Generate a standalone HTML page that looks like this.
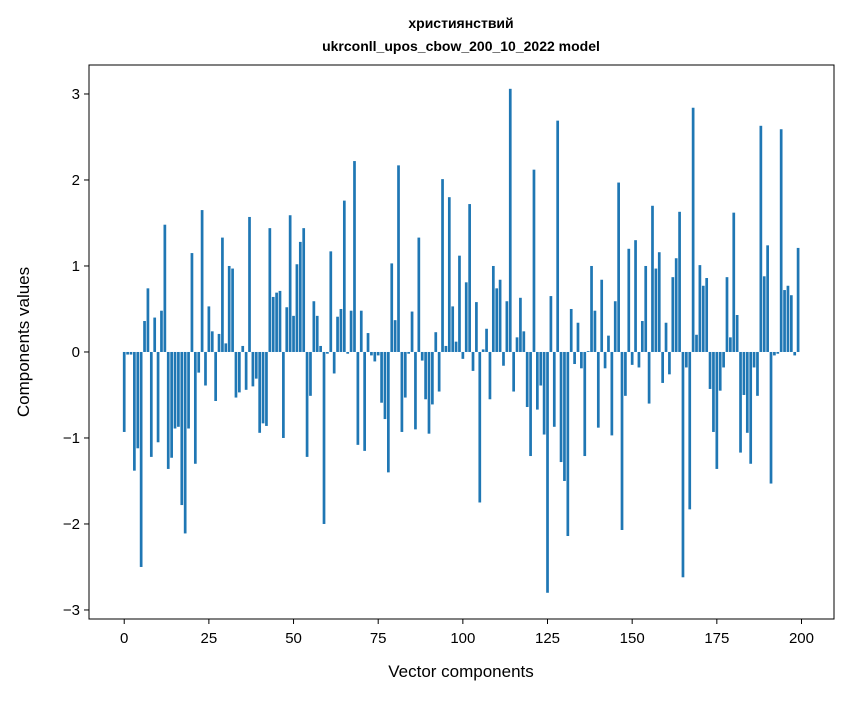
<!DOCTYPE html>
<html><head><meta charset="utf-8"><style>
body{margin:0;background:#fff;}
svg text{font-family:"Liberation Sans","DejaVu Sans",sans-serif;fill:#000;}
</style></head><body>
<svg id="chart" width="847" height="696" xmlns="http://www.w3.org/2000/svg">
<rect width="847" height="696" fill="#fff"/>
<text x="461" y="28" text-anchor="middle" font-size="14" font-weight="bold">християнствий</text>
<text x="461" y="51" text-anchor="middle" font-size="14" font-weight="bold">ukrconll_upos_cbow_200_10_2022 model</text>
<g id="bars"></g>
<g id="axes"></g>
<rect x="89" y="65" width="745" height="554" fill="none" stroke="#000" stroke-width="1"/>
<text x="461" y="677" text-anchor="middle" font-size="17">Vector components</text>
<text transform="translate(29,342) rotate(-90)" text-anchor="middle" font-size="17">Components values</text>
</svg>
<script>
const values = [-0.93,-0.03,-0.03,-1.38,-1.12,-2.50,0.36,0.74,-1.22,0.40,-1.05,0.48,1.48,-1.36,-1.23,-0.89,-0.87,-1.78,-2.11,-0.89,
1.15,-1.30,-0.24,1.65,-0.39,0.53,0.24,-0.57,0.21,1.33,0.10,1.00,0.97,-0.53,-0.47,0.07,-0.44,1.57,-0.40,-0.31,
-0.94,-0.83,-0.86,1.44,0.64,0.69,0.71,-1.00,0.52,1.59,0.42,1.02,1.28,1.44,-1.22,-0.51,0.59,0.42,0.07,-2.00,
-0.02,1.17,-0.25,0.41,0.50,1.76,-0.02,0.48,2.22,-1.08,0.48,-1.15,0.22,-0.04,-0.11,-0.04,-0.59,-0.78,-1.40,1.03,
0.37,2.17,-0.93,-0.53,-0.02,0.47,-0.90,1.33,-0.10,-0.55,-0.95,-0.61,0.23,-0.46,2.01,0.07,1.80,0.53,0.12,1.12,
-0.08,0.81,1.72,-0.22,0.58,-1.75,0.03,0.27,-0.55,1.00,0.74,0.84,-0.16,0.59,3.06,-0.46,0.17,0.63,0.24,-0.64,
-1.21,2.12,-0.67,-0.39,-0.96,-2.80,0.65,-0.87,2.69,-1.28,-1.50,-2.14,0.50,-0.14,0.34,-0.19,-1.21,0.01,1.00,0.48,
-0.88,0.84,-0.19,0.19,-0.97,0.59,1.97,-2.07,-0.51,1.20,-0.15,1.30,-0.18,0.36,1.00,-0.60,1.70,0.97,1.16,-0.36,
0.34,-0.26,0.87,1.09,1.63,-2.62,-0.18,-1.83,2.84,0.20,1.01,0.77,0.86,-0.43,-0.93,-1.36,-0.45,-0.18,0.87,0.17,
1.62,0.43,-1.17,-0.50,-0.94,-1.30,-0.18,-0.51,2.63,0.88,1.24,-1.53,-0.04,-0.02,2.59,0.72,0.77,0.66,-0.04,1.21];
const xTicks = [0,25,50,75,100,125,150,175,200];
const yTicks = [-3,-2,-1,0,1,2,3];
const yTickLabels = ["\u22123","\u22122","\u22121","0","1","2","3"];

const NS="http://www.w3.org/2000/svg";
const X0=89,X1=834,Y0=65,Y1=619, XMIN=-10.4,XMAX=209.6, YMIN=-3.105,YMAX=3.337;
function xs(v){return X0+(v-XMIN)/(XMAX-XMIN)*(X1-X0);}
function ys(v){return Y1-(v-YMIN)/(YMAX-YMIN)*(Y1-Y0);}
const bars=document.getElementById('bars');
values.forEach((v,i)=>{
  const r=document.createElementNS(NS,'rect');
  const xa=xs(i-0.4), xb=xs(i+0.4);
  const y0=ys(0), yv=ys(v);
  r.setAttribute('x',xa);r.setAttribute('width',xb-xa);
  r.setAttribute('y',Math.min(y0,yv));r.setAttribute('height',Math.abs(yv-y0));
  r.setAttribute('fill','#1f77b4');
  
  
  bars.appendChild(r);
});
const axes=document.getElementById('axes');
xTicks.forEach(t=>{
  const x=xs(t);
  const l=document.createElementNS(NS,'line');
  l.setAttribute('x1',x);l.setAttribute('x2',x);l.setAttribute('y1',Y1);l.setAttribute('y2',Y1+5);l.setAttribute('stroke','#000');
  
  
  axes.appendChild(l);
  const tx=document.createElementNS(NS,'text');
  tx.setAttribute('x',x);tx.setAttribute('y',Y1+24);tx.setAttribute('text-anchor','middle');tx.setAttribute('font-size','15');
  tx.textContent=t;
  
  
  axes.appendChild(tx);
});
yTicks.forEach((t,k)=>{
  const y=ys(t);
  const l=document.createElementNS(NS,'line');
  l.setAttribute('x1',X0-5);l.setAttribute('x2',X0);l.setAttribute('y1',y);l.setAttribute('y2',y);l.setAttribute('stroke','#000');
  
  
  axes.appendChild(l);
  const tx=document.createElementNS(NS,'text');
  tx.setAttribute('x',X0-9);tx.setAttribute('y',y+5);tx.setAttribute('text-anchor','end');tx.setAttribute('font-size','15');
  tx.textContent=yTickLabels[k];
  
  
  axes.appendChild(tx);
});
</script>
</body></html>
